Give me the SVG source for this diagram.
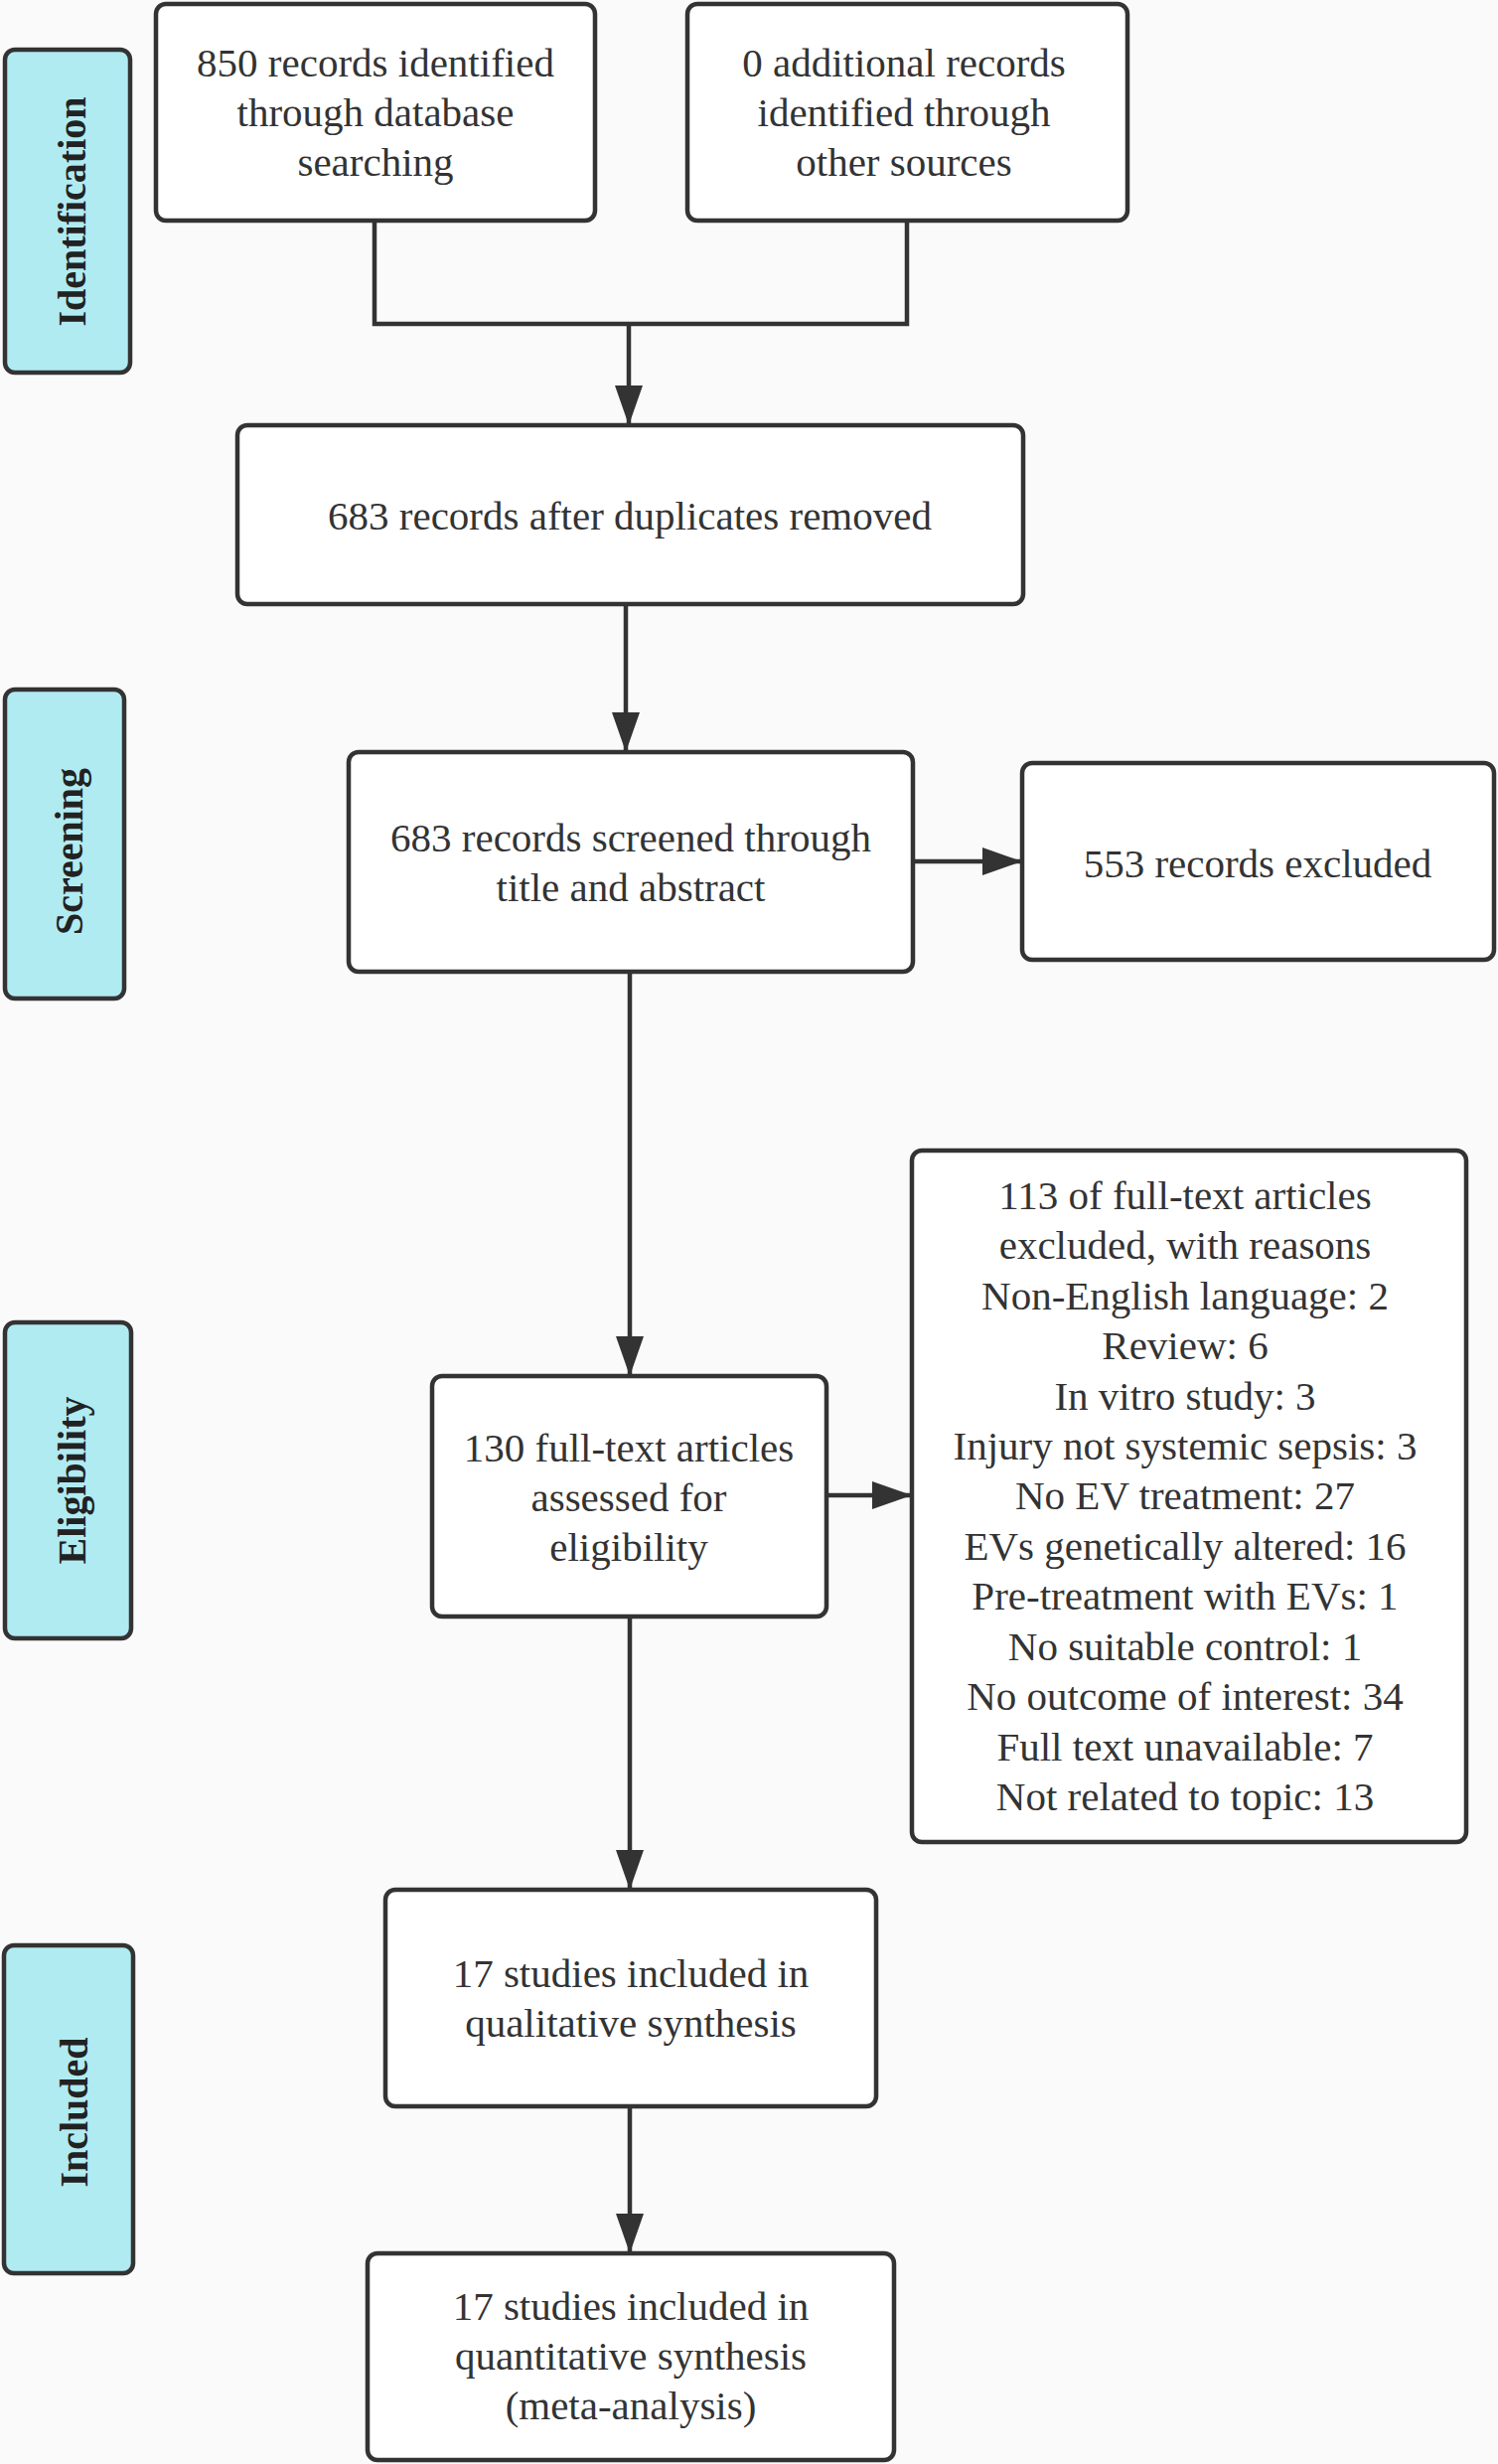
<svg xmlns="http://www.w3.org/2000/svg" width="1508" height="2480" viewBox="0 0 1508 2480">
<defs>
<marker id="arr" markerUnits="userSpaceOnUse" markerWidth="40" markerHeight="28" refX="40" refY="14" orient="auto">
<path d="M0,0 L40,14 L0,28 z" fill="#333"/>
</marker>
<style>
.box{fill:#fff;stroke:#333;stroke-width:4.5}
.lab{fill:#b0ebf2;stroke:#333;stroke-width:4.5}
.t{font-family:"Liberation Serif","Times New Roman",serif;font-size:41px;fill:#333;text-anchor:middle}
.lt{font-family:"Liberation Serif","Times New Roman",serif;font-size:40px;font-weight:bold;fill:#222;text-anchor:middle}
.c{fill:none;stroke:#333;stroke-width:4.5}
</style>
</defs>
<rect width="1508" height="2480" fill="#fafafa"/>

<g id="connectors">
<path class="c" d="M377,222 V326 H913 V222"/>
<path class="c" d="M633,326 V428" marker-end="url(#arr)"/>
<path class="c" d="M630,608 V757" marker-end="url(#arr)"/>
<path class="c" d="M919,867 H1029" marker-end="url(#arr)"/>
<path class="c" d="M634,978 V1385" marker-end="url(#arr)"/>
<path class="c" d="M832,1505 H918" marker-end="url(#arr)"/>
<path class="c" d="M634,1627 V1902" marker-end="url(#arr)"/>
<path class="c" d="M634,2120 V2268" marker-end="url(#arr)"/>
</g>

<g id="label-identification">
<rect class="lab" x="5" y="50" width="126" height="325" rx="10"/>
<text class="lt" transform="translate(86,213) rotate(-90)">Identification</text>
</g>
<g id="label-screening">
<rect class="lab" x="5" y="694" width="120" height="311" rx="10"/>
<text class="lt" transform="translate(83,857) rotate(-90)">Screening</text>
</g>
<g id="label-eligibility">
<rect class="lab" x="5" y="1331" width="127" height="318" rx="10"/>
<text class="lt" transform="translate(86,1490) rotate(-90)">Eligibility</text>
</g>
<g id="label-included">
<rect class="lab" x="4" y="1958" width="130" height="330" rx="10"/>
<text class="lt" transform="translate(88,2126) rotate(-90)">Included</text>
</g>

<g id="node-database">
<rect class="box" x="157" y="4" width="442" height="218" rx="10"/>
<text class="t" x="378" y="77">850 records identified</text>
<text class="t" x="378" y="127">through database</text>
<text class="t" x="378" y="177">searching</text>
</g>
<g id="node-other">
<rect class="box" x="692" y="4" width="443" height="218" rx="10"/>
<text class="t" x="910" y="77">0 additional records</text>
<text class="t" x="910" y="127">identified through</text>
<text class="t" x="910" y="177">other sources</text>
</g>
<g id="node-duplicates">
<rect class="box" x="239" y="428" width="791" height="180" rx="10"/>
<text class="t" x="634" y="533">683 records after duplicates removed</text>
</g>
<g id="node-screened">
<rect class="box" x="351" y="757" width="568" height="221" rx="10"/>
<text class="t" x="635" y="857">683 records screened through</text>
<text class="t" x="635" y="907">title and abstract</text>
</g>
<g id="node-excluded">
<rect class="box" x="1029" y="768" width="475" height="198" rx="10"/>
<text class="t" x="1266" y="883">553 records excluded</text>
</g>
<g id="node-fulltext">
<rect class="box" x="435" y="1385" width="397" height="242" rx="10"/>
<text class="t" x="633" y="1471">130 full-text articles</text>
<text class="t" x="633" y="1521">assessed for</text>
<text class="t" x="633" y="1571">eligibility</text>
</g>
<g id="node-reasons">
<rect class="box" x="918" y="1158" width="558" height="696" rx="10"/>
<text class="t" x="1193" y="1217">113 of full-text articles</text>
<text class="t" x="1193" y="1267">excluded, with reasons</text>
<text class="t" x="1193" y="1318">Non-English language: 2</text>
<text class="t" x="1193" y="1368">Review: 6</text>
<text class="t" x="1193" y="1419">In vitro study: 3</text>
<text class="t" x="1193" y="1469">Injury not systemic sepsis: 3</text>
<text class="t" x="1193" y="1519">No EV treatment: 27</text>
<text class="t" x="1193" y="1570">EVs genetically altered: 16</text>
<text class="t" x="1193" y="1620">Pre-treatment with EVs: 1</text>
<text class="t" x="1193" y="1671">No suitable control: 1</text>
<text class="t" x="1193" y="1721">No outcome of interest: 34</text>
<text class="t" x="1193" y="1772">Full text unavailable: 7</text>
<text class="t" x="1193" y="1822">Not related to topic: 13</text>
</g>
<g id="node-qualitative">
<rect class="box" x="388" y="1902" width="494" height="218" rx="10"/>
<text class="t" x="635" y="2000">17 studies included in</text>
<text class="t" x="635" y="2050">qualitative synthesis</text>
</g>
<g id="node-quantitative">
<rect class="box" x="370" y="2268" width="530" height="208" rx="10"/>
<text class="t" x="635" y="2335">17 studies included in</text>
<text class="t" x="635" y="2385">quantitative synthesis</text>
<text class="t" x="635" y="2435">(meta-analysis)</text>
</g>
</svg>
